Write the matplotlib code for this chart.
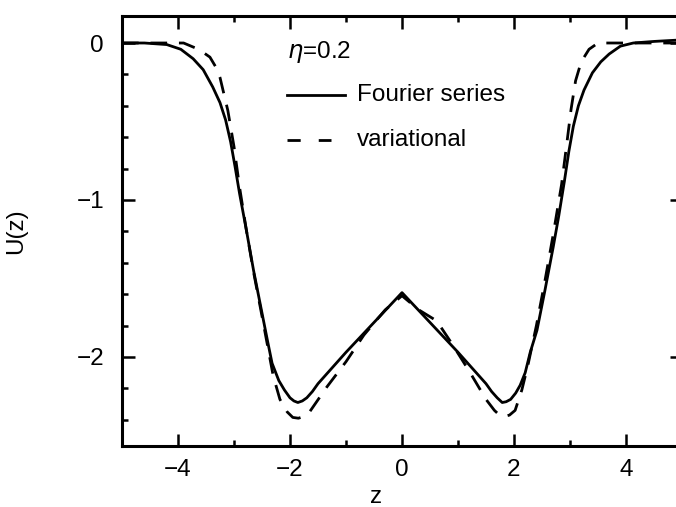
import matplotlib
matplotlib.use("Agg")
import matplotlib.pyplot as plt
import numpy as np

plt.rcParams['font.family'] = ['Liberation Sans', 'DejaVu Sans']
plt.rcParams['mathtext.fontset'] = 'dejavusans'
plt.rcParams['lines.scale_dashes'] = False

# Fourier series solution (solid)
z_fourier = [-5.0, -4.6, -4.2, -3.95, -3.73, -3.55, -3.38, -3.25, -3.15, -3.06, -2.98,
             -2.9, -2.78, -2.65, -2.5, -2.4, -2.32, -2.2, -2.1, -2.0, -1.93, -1.86, -1.78,
             -1.7, -1.6, -1.5, -1.0, -0.5, 0.0, 0.5, 1.0, 1.5, 1.6, 1.7, 1.79, 1.86, 1.94,
             2.03, 2.11, 2.2, 2.29, 2.41, 2.55, 2.7, 2.8, 2.9, 2.98, 3.06, 3.15, 3.25, 3.4,
             3.55, 3.7, 3.9, 4.13, 4.5, 5.0]
u_fourier = [0.0, 0.0, -0.01, -0.04, -0.10, -0.17, -0.28, -0.38, -0.49, -0.63, -0.79,
             -0.96, -1.19, -1.45, -1.72, -1.90, -2.04, -2.15, -2.21, -2.26, -2.28, -2.29,
             -2.28, -2.26, -2.22, -2.17, -1.97, -1.78, -1.59, -1.78, -1.97, -2.17, -2.22,
             -2.26, -2.29, -2.285, -2.27, -2.23, -2.18, -2.10, -1.97, -1.83, -1.58, -1.30,
             -1.10, -0.88, -0.69, -0.53, -0.40, -0.30, -0.19, -0.12, -0.07, -0.02, 0.0,
             0.01, 0.02]

# variational solution (dashed)
z_var = [-5.0, -4.2, -3.9, -3.7, -3.55, -3.43, -3.33, -3.25, -3.11, -3.0, -2.9, -2.78,
         -2.65, -2.5, -2.3, -2.18, -2.05, -1.95, -1.85, -1.76, -1.67, -1.34, -1.0, -0.68,
         -0.3, 0.0, 0.3, 0.62, 0.9, 1.2, 1.5, 1.65, 1.74, 1.82, 1.92, 2.02, 2.14, 2.25,
         2.4, 2.55, 2.7, 2.85, 2.95, 3.02, 3.1, 3.2, 3.34, 3.5, 3.7, 4.2, 5.0]
u_var = [0.0, 0.0, 0.0, -0.03, -0.06, -0.09, -0.15, -0.22, -0.43, -0.66, -0.92, -1.19,
         -1.46, -1.74, -2.12, -2.27, -2.35, -2.385, -2.39, -2.38, -2.36, -2.19, -2.03,
         -1.86, -1.70, -1.61, -1.70, -1.77, -1.92, -2.09, -2.27, -2.34, -2.37, -2.38,
         -2.37, -2.34, -2.21, -2.05, -1.80, -1.52, -1.22, -0.90, -0.62, -0.42, -0.24,
         -0.12, -0.04, 0.0, 0.0, 0.0, 0.0]

eta_label = r'$\eta$=0.2'
series_names = ['Fourier series', 'variational']

fig = plt.figure(figsize=(6.76, 5.07), dpi=100)
ax = fig.add_axes([122 / 676, 61 / 507, 560 / 676, 430 / 507])

ax.plot(z_fourier, u_fourier, color='black', linewidth=2.0)
ax.plot(z_var, u_var, color='black', linewidth=2.0, linestyle=(0, (12, 8.5)))

ax.set_xlim(-5, 5)
ax.set_ylim(-2.567, 0.172)
ax.set_xticks([-4, -2, 0, 2, 4])
ax.set_xticks([-5, -3, -1, 1, 3, 5], minor=True)
ax.set_yticks([-2, -1, 0])
ax.set_yticks(np.arange(-2.4, 0.2, 0.2), minor=True)
ax.tick_params(which='both', direction='in', top=True, right=True, width=1.8,
               labelsize=17.5)
ax.tick_params(which='major', length=9)
ax.tick_params(which='minor', length=4.5)
ax.tick_params(axis='x', pad=9)
ax.tick_params(axis='y', pad=13)
for s in ax.spines.values():
    s.set_linewidth(2.2)

ax.set_xlabel('z', fontsize=17.5)
ax.set_ylabel('U(z)', fontsize=17.5)
ax.xaxis.set_label_coords(0.454, -0.092)
ax.yaxis.set_label_coords(-0.17, 0.5)

# hand-drawn legend
ax.text(0.295, 0.916, eta_label, transform=ax.transAxes, fontsize=17.5, va='center', ha='left')
ax.plot([0.295, 0.398], [0.816, 0.816], transform=ax.transAxes, color='black', linewidth=2.0)
ax.text(0.42, 0.816, series_names[0], transform=ax.transAxes, fontsize=17.5, va='center', ha='left')
ax.plot([0.295, 0.374], [0.712, 0.712], transform=ax.transAxes, color='black', linewidth=2.0,
        linestyle=(0, (9.5, 13)))
ax.text(0.42, 0.712, series_names[1], transform=ax.transAxes, fontsize=17.5, va='center', ha='left')

fig.savefig('out.png', dpi=100)
